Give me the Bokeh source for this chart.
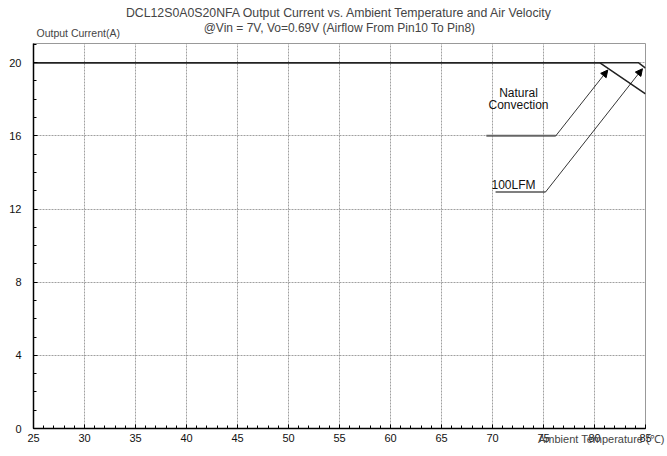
from bokeh.plotting import figure
from bokeh.models import Label, Arrow, NormalHead, SingleIntervalTicker, Range1d, Title
from bokeh.embed import file_html
from bokeh.resources import INLINE

# Data
nc_temp = [25, 80.5, 85]
nc_curr = [20, 20, 18.3]
lfm_temp = [25, 84.3, 85]
lfm_curr = [20, 20, 19.7]

# Annotation leader lines
nc_lead_x = [69.4, 76.2]
nc_lead_y = [16, 16]
nc_arrow_end = (81.3, 19.6)
lfm_lead_x = [70.3, 75.2]
lfm_lead_y = [12.93, 12.93]
lfm_arrow_end = (84.7, 19.67)

title1 = "DCL12S0A0S20NFA Output Current vs. Ambient Temperature and Air Velocity"
title2 = "@Vin = 7V, Vo=0.69V (Airflow From Pin10 To Pin8)"
ylabel = "Output Current(A)"
xlabel = "Ambient Temperature (\u2103)"

FONT = "Liberation Sans"

p = figure(width=667, height=456, output_backend="svg", toolbar_location=None,
           x_range=Range1d(25, 85), y_range=Range1d(0, 21.05),
           min_border_left=33, min_border_right=22, min_border_top=43, min_border_bottom=28)
p.background_fill_color = "white"
p.border_fill_color = "white"
p.outline_line_color = "#999999"
p.outline_line_width = 1

p.xaxis.ticker = SingleIntervalTicker(interval=5, num_minor_ticks=5)
p.yaxis.ticker = SingleIntervalTicker(interval=4, num_minor_ticks=4)
for ax in (p.xaxis[0], p.yaxis[0]):
    ax.axis_line_color = "black"
    ax.axis_line_width = 1.5
    ax.major_tick_in = 4
    ax.major_tick_out = 0
    ax.minor_tick_in = 3
    ax.minor_tick_out = 0
    ax.major_tick_line_color = "black"
    ax.minor_tick_line_color = "black"
    ax.major_label_text_font = FONT
    ax.major_label_text_font_size = "11px"
    ax.major_label_text_color = "#111111"
p.xaxis.major_label_standoff = 5
p.yaxis.major_label_standoff = 12

p.grid.grid_line_color = "#888888"
p.grid.grid_line_dash = "2 1"
p.grid.grid_line_width = 0.8

p.line(nc_temp, nc_curr, line_color="#222222", line_width=1.5)
p.line(lfm_temp, lfm_curr, line_color="#222222", line_width=1.5)

p.line(nc_lead_x, nc_lead_y, line_color="#666666", line_width=2)
p.line(lfm_lead_x, lfm_lead_y, line_color="black", line_width=1.2)

p.add_layout(Arrow(end=NormalHead(size=7, fill_color="black", line_color="black"),
                   x_start=nc_lead_x[1], y_start=nc_lead_y[1],
                   x_end=nc_arrow_end[0], y_end=nc_arrow_end[1],
                   line_color="black", line_width=0.8))
p.add_layout(Arrow(end=NormalHead(size=7, fill_color="black", line_color="black"),
                   x_start=lfm_lead_x[1], y_start=lfm_lead_y[1],
                   x_end=lfm_arrow_end[0], y_end=lfm_arrow_end[1],
                   line_color="black", line_width=0.8))

def lab(x, y, t, align="center", size="12px"):
    p.add_layout(Label(x=x, y=y, text=t, text_font=FONT, text_font_size=size,
                       text_align=align, text_baseline="middle", text_color="#111111"))

lab(72.55, 18.34, "Natural")
lab(72.55, 17.69, "Convection")
lab(72.06, 13.32, "100LFM")

# Titles / axis labels outside the frame (stacked from frame outward)
p.add_layout(Title(text=ylabel, align="left", text_font=FONT, text_font_size="10.5px",
                   text_font_style="normal", standoff=10, offset=3,
                   vertical_align="bottom"), "above")
p.add_layout(Title(text=title2, align="center", text_font=FONT, text_font_size="12px",
                   text_font_style="normal", standoff=-30, offset=-6,
                   vertical_align="bottom"), "above")
p.add_layout(Title(text=title1, align="center", text_font=FONT, text_font_size="12.3px",
                   text_font_style="normal", standoff=0, offset=-6,
                   vertical_align="bottom"), "above")

p.add_layout(Title(text=xlabel, align="right", text_font=FONT, text_font_size="11px",
                   text_font_style="normal", standoff=-23, offset=-19,
                   vertical_align="top"), "below")

open("out.html", "w").write(file_html(p, INLINE))
